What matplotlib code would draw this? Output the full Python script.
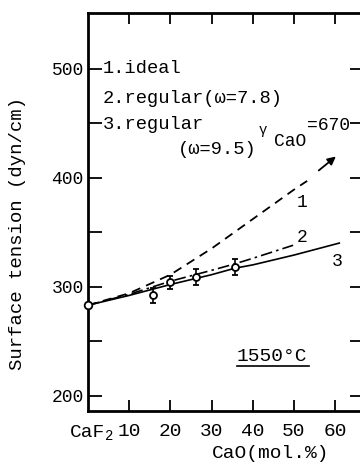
import numpy as np
import matplotlib
matplotlib.use('Agg')
import matplotlib.pyplot as plt

plt.rcParams['font.family'] = ['Liberation Mono', 'DejaVu Sans Mono']

# measured points (CaO mol.%, surface tension)
x_meas = [15.8, 19.9, 26.2, 35.7]
y_meas = [292, 304, 309, 318]
y_err = [7, 6, 7, 7]
x_caf2 = [0]
y_caf2 = [283]

# model curves
x_ideal = [0, 10, 20, 30, 40, 50, 53.2]
y_ideal = [283, 294, 311, 335, 362, 389, 397]
x_reg78 = [0, 10, 20, 30, 35.7, 40, 49.8]
y_reg78 = [283, 293, 305, 315, 321, 326, 338]
x_reg95 = [0, 10, 20, 30, 35.7, 40, 50, 61]
y_reg95 = [283, 292, 302, 311, 317, 320, 329, 340]

xticks = [10, 20, 30, 40, 50, 60]
yticks = [200, 300, 400, 500]
yminor = [250, 350, 450]

fig = plt.figure(figsize=(3.6, 4.62), dpi=100)
ax = fig.add_axes([88/360, 51/462, 276/360, 398/462])

ax.plot(x_ideal, y_ideal, color='black', lw=1.3, ls=(0, (5, 3.5)))
ax.annotate('', xy=(60.7, 421), xytext=(55.5, 405),
            arrowprops=dict(arrowstyle='-|>', color='black', lw=1.3,
                            mutation_scale=12))
ax.plot(x_reg78, y_reg78, color='black', lw=1.2, ls=(0, (7, 2.5, 1.5, 2.5)))
ax.plot(x_reg95, y_reg95, color='black', lw=1.2)
ax.errorbar(x_meas, y_meas, yerr=y_err, fmt='o', mfc='white', mec='black',
            ms=5, mew=1.3, ecolor='black', elinewidth=1.2, capsize=2.5, zorder=5)
ax.plot(x_caf2, y_caf2, 'o', mfc='white', mec='black', ms=5.5, mew=1.3,
        clip_on=False, zorder=6)

ax.set_xlim(0, 67)
ax.set_ylim(186, 551)
ax.set_xticks(xticks)
ax.set_xticklabels([str(t) for t in xticks], fontsize=14)
ax.set_yticks(yticks)
ax.set_yticklabels([str(t) for t in yticks], fontsize=13)
ax.set_yticks(yminor, minor=True)
ax.tick_params(axis='x', direction='in', length=8, width=1.3, pad=9,
               top=True, bottom=True)
ax.tick_params(axis='y', which='both', direction='in', length=10, width=1.3,
               pad=3, left=True, right=True)
for s in ax.spines.values():
    s.set_linewidth(2)

ax.annotate('CaF', xy=(4.1, -0.053), xycoords=('data', 'axes fraction'),
            ha='right', va='center', fontsize=14)
ax.annotate('2', xy=(4.2, -0.062), xycoords=('data', 'axes fraction'),
            ha='left', va='center', fontsize=10)

fs = 13.5
ax.text(3.6, 500, '1.ideal', fontsize=fs, va='center')
ax.text(3.6, 473, '2.regular(\u03c9=7.8)', fontsize=fs, va='center')
ax.text(3.6, 449, '3.regular', fontsize=fs, va='center')
ax.text(21.8, 426, '(\u03c9=9.5)', fontsize=fs, va='center')
ax.text(41.4, 444, '\u03b3', fontsize=10, va='center')
ax.text(45.2, 433, 'CaO', fontsize=13, va='center')
ax.text(53.2, 448, '=670', fontsize=13, va='center')

ax.text(51.9, 377, '1', fontsize=13, ha='center', va='center')
ax.text(51.9, 345, '2', fontsize=13, ha='center', va='center')
ax.text(60.4, 323, '3', fontsize=13, ha='center', va='center')

ax.text(44.7, 236, '1550\u00b0C', fontsize=14, ha='center', va='center')
ax.plot([36.2, 53.6], [227.5, 227.5], color='black', lw=1.2)

fig.text(18/360, 1 - 234/462, 'Surface tension (dyn/cm)', rotation=90,
         ha='center', va='center', fontsize=13.7)
fig.text(271/360, 1 - 453/462, 'CaO(mol.%)', ha='center', va='center',
         fontsize=14)

fig.savefig('out.png', dpi=100)
